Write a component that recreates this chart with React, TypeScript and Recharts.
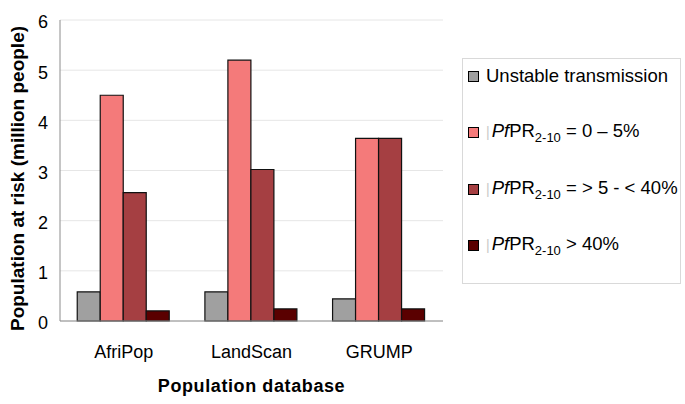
import React from 'react';
import { BarChart, Bar, XAxis, YAxis, CartesianGrid } from 'recharts';

const databases = ['AfriPop', 'LandScan', 'GRUMP'];
const unstable = [0.58, 0.58, 0.44];
const pfpr0to5 = [4.5, 5.2, 3.64];
const pfpr5to40 = [2.56, 3.02, 3.64];
const pfprOver40 = [0.2, 0.24, 0.24];
const yTicks = [0, 1, 2, 3, 4, 5, 6];

const seriesKeys = ['unstable', 'low', 'mid', 'high'];
const seriesColors = ['#a0a0a0', '#f47a7a', '#a53f42', '#5a0000'];
// legend text: first is plain, the rest are "PfPR2-10" + suffix
const legendSuffix = ['', ' = 0 – 5%', ' = > 5 - < 40%', ' > 40%'];

const data = databases.map((name, i) => ({
  name,
  unstable: unstable[i],
  low: pfpr0to5[i],
  mid: pfpr5to40[i],
  high: pfprOver40[i],
}));

const FONT = '"Liberation Sans", Arial, sans-serif';

const YTitle = ({ viewBox }: any) => {
  const cx = 17;
  const cy = viewBox.y + viewBox.height / 2 + 8;
  return (
    <text x={cx} y={cy} transform={`rotate(-90 ${cx} ${cy})`} textAnchor="middle" dominantBaseline="central"
      fontFamily={FONT} fontSize={19} fontWeight="bold" fill="#000">
      Population at risk (million people)
    </text>
  );
};

const XTitle = ({ viewBox }: any) => (
  <text x={viewBox.x + viewBox.width / 2} y={392} textAnchor="middle"
    fontFamily={FONT} fontSize={18} fontWeight="bold" fill="#000" letterSpacing={0.6}>
    Population database
  </text>
);

const LegendBox = () => (
  <div style={{
    position: 'absolute', left: 462, top: 58, width: 219, height: 226, boxSizing: 'border-box',
    border: '1px solid #d9d9d9', background: '#fff', fontFamily: FONT, fontSize: 18.5, color: '#000',
  }}>
    {seriesKeys.map((k, i) => (
      <div key={k} style={{ position: 'absolute', left: 5, top: 6 + i * 56.5, height: 22, display: 'flex', alignItems: 'center', whiteSpace: 'nowrap' }}>
        <span style={{ width: 9, height: 9, background: seriesColors[i], border: '1px solid #000', display: 'inline-block', marginRight: 7 }} />
        {i === 0 ? (
          <span>Unstable transmission</span>
        ) : (
          <span>
            <span style={{ color: '#c8c8c8', fontSize: 14, marginRight: 2 }}>|</span>
            <i>Pf</i>PR<sub style={{ fontSize: 13, verticalAlign: -5 }}>2-10</sub>{legendSuffix[i]}
          </span>
        )}
      </div>
    ))}
  </div>
);

export default function App() {
  return (
    <div style={{ position: 'absolute', left: 0, top: 0, width: 685, height: 404, background: '#fff' }}>
      <BarChart width={685} height={404} data={data} margin={{ top: 20, right: 242, bottom: 0, left: 0 }}
        barCategoryGap="13.5%" barGap={0}>
        <CartesianGrid vertical={false} stroke="#e6e6e6" />
        <XAxis dataKey="name" height={83} tickLine={false} axisLine={{ stroke: '#8c8c8c' }}
          tick={{ fontFamily: FONT, fontSize: 18, fill: '#000' }} tickMargin={18}
          label={<XTitle />} />
        <XAxis xAxisId="top" dataKey="name" orientation="top" height={0} tick={false} tickLine={false}
          axisLine={{ stroke: '#8c8c8c' }} />
        <YAxis domain={[0, 6]} ticks={yTicks} width={60} tickLine={false} axisLine={{ stroke: '#8c8c8c' }}
          tick={{ fontFamily: FONT, fontSize: 18, fill: '#000', dy: 2 }} tickSize={6} tickMargin={6}
          label={<YTitle />} />
        <YAxis yAxisId="right" orientation="right" domain={[0, 6]} width={0} tick={false} tickLine={false}
          axisLine={{ stroke: '#8c8c8c' }} />
        {seriesKeys.map((k, i) => (
          <Bar key={k} dataKey={k} fill={seriesColors[i]} stroke="#111" strokeWidth={1.2} isAnimationActive={false} />
        ))}
      </BarChart>
      <LegendBox />
    </div>
  );
}
